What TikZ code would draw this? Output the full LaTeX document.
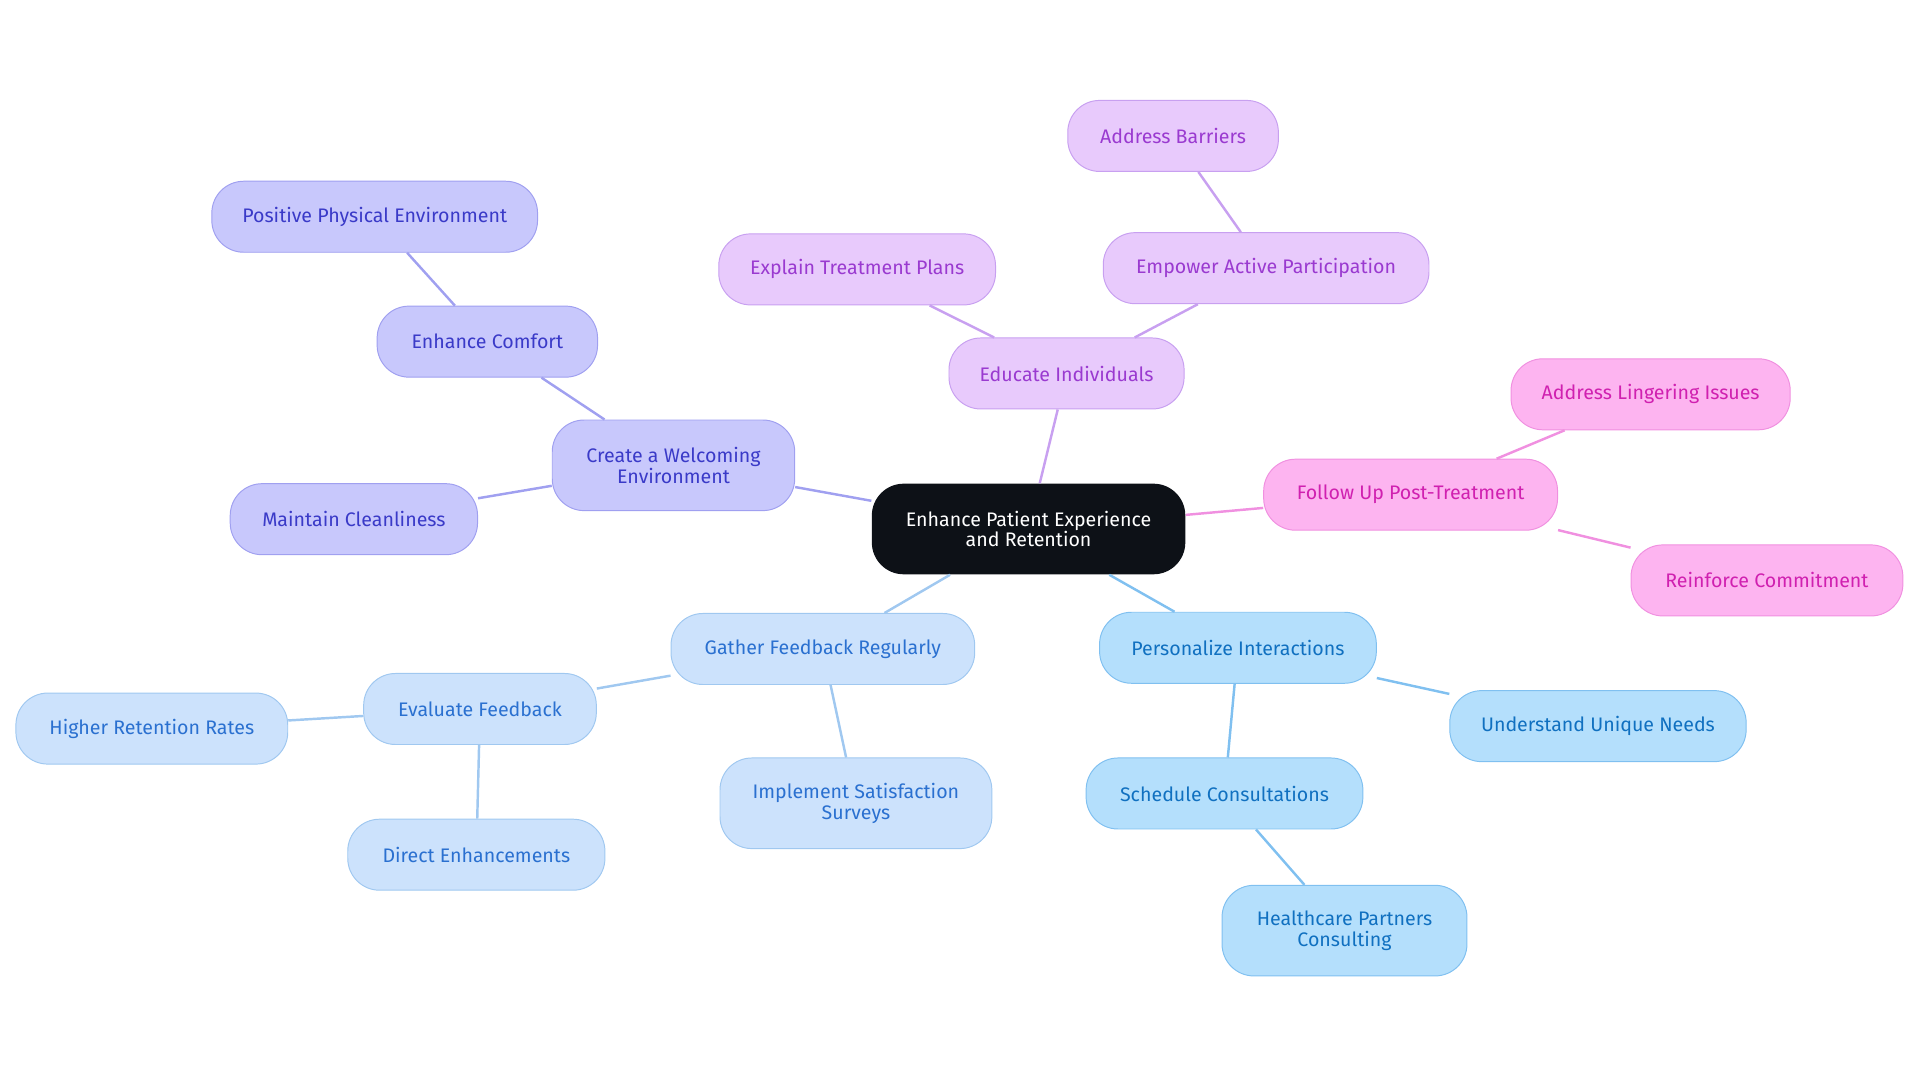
\documentclass[tikz,border=0pt]{standalone}
\usepackage{fontspec}
\setmainfont{Fira Sans}
\usetikzlibrary{positioning}
\definecolor{rootfill}{HTML}{0D1117}
\definecolor{pafill}{HTML}{C8C8FC}\definecolor{padraw}{HTML}{A0A0F0}\definecolor{patext}{HTML}{3A3AC8}
\definecolor{vifill}{HTML}{E8CAFC}\definecolor{vidraw}{HTML}{C8A0F0}\definecolor{vitext}{HTML}{9A3AD0}
\definecolor{pkfill}{HTML}{FDB4F0}\definecolor{pkdraw}{HTML}{F090E0}\definecolor{pktext}{HTML}{D020B0}
\definecolor{lbfill}{HTML}{CCE2FC}\definecolor{lbdraw}{HTML}{A0C8F0}\definecolor{lbtext}{HTML}{2A70D0}
\definecolor{skfill}{HTML}{B4DFFC}\definecolor{skdraw}{HTML}{80C0F0}\definecolor{sktext}{HTML}{1070C0}
\tikzset{
  box/.style={rectangle,rounded corners=26pt,minimum height=58pt,align=center,
    font=\fontsize{16}{17}\selectfont,line width=0.8pt,inner sep=0pt},
  pa/.style={box,fill=pafill,draw=padraw,text=patext},
  vi/.style={box,fill=vifill,draw=vidraw,text=vitext},
  pk/.style={box,fill=pkfill,draw=pkdraw,text=pktext},
  lb/.style={box,fill=lbfill,draw=lbdraw,text=lbtext},
  sk/.style={box,fill=skfill,draw=skdraw,text=sktext},
  tall/.style={minimum height=74pt},
  link/.style={line width=2pt}
}
\begin{document}
\begin{tikzpicture}[x=1pt,y=-1pt]
  \useasboundingbox (0,0) rectangle (1568,884);
  % centre
  \node[box,tall,fill=rootfill,text=white,minimum width=256pt] (root) at (840,432) {Enhance Patient Experience\\and Retention};
  % welcoming branch
  \node[pa,tall,minimum width=198pt] (welcome) at (550,380) {Create a Welcoming\\Environment};
  \node[pa,minimum width=180pt] (comfort) at (398,279) {Enhance Comfort};
  \node[pa,minimum width=266pt] (physical) at (306,177) {Positive Physical Environment};
  \node[pa,minimum width=202pt] (clean) at (289,424) {Maintain Cleanliness};
  % educate branch
  \node[vi,minimum width=192pt] (educate) at (871,305) {Educate Individuals};
  \node[vi,minimum width=226pt] (explain) at (700,220) {Explain Treatment Plans};
  \node[vi,minimum width=266pt] (empower) at (1034,219) {Empower Active Participation};
  \node[vi,minimum width=172pt] (barriers) at (958,111) {Address Barriers};
  % follow up branch
  \node[pk,minimum width=240pt] (follow) at (1152,404) {Follow Up Post-Treatment};
  \node[pk,minimum width=228pt] (lingering) at (1348,322) {Address Lingering Issues};
  \node[pk,minimum width=222pt] (commit) at (1443,474) {Reinforce Commitment};
  % feedback branch
  \node[lb,minimum width=248pt] (gather) at (672,530) {Gather Feedback Regularly};
  \node[lb,minimum width=190pt] (evaluate) at (392,579) {Evaluate Feedback};
  \node[lb,minimum width=222pt] (retention) at (124,595) {Higher Retention Rates};
  \node[lb,minimum width=210pt] (direct) at (389,698) {Direct Enhancements};
  \node[lb,tall,minimum width=222pt] (surveys) at (699,656) {Implement Satisfaction\\Surveys};
  % personalize branch
  \node[sk,minimum width=226pt] (personal) at (1011,529) {Personalize Interactions};
  \node[sk,minimum width=242pt] (needs) at (1305,593) {Understand Unique Needs};
  \node[sk,minimum width=226pt] (schedule) at (1000,648) {Schedule Consultations};
  \node[sk,tall,minimum width=200pt] (partners) at (1098,760) {Healthcare Partners\\Consulting};
  % links
  \begin{scope}[on background layer/.style={}]
  \end{scope}
  \draw[link,padraw] (root) -- (welcome);
  \draw[link,padraw] (welcome) -- (comfort);
  \draw[link,padraw] (comfort) -- (physical);
  \draw[link,padraw] (welcome) -- (clean);
  \draw[link,vidraw] (root) -- (educate);
  \draw[link,vidraw] (educate) -- (explain);
  \draw[link,vidraw] (educate) -- (empower);
  \draw[link,vidraw] (empower) -- (barriers);
  \draw[link,pkdraw] (root) -- (follow);
  \draw[link,pkdraw] (follow) -- (lingering);
  \draw[link,pkdraw] (follow) -- (commit);
  \draw[link,lbdraw] (root) -- (gather);
  \draw[link,lbdraw] (gather) -- (evaluate);
  \draw[link,lbdraw] (evaluate) -- (retention);
  \draw[link,lbdraw] (evaluate) -- (direct);
  \draw[link,lbdraw] (gather) -- (surveys);
  \draw[link,skdraw] (root) -- (personal);
  \draw[link,skdraw] (personal) -- (needs);
  \draw[link,skdraw] (personal) -- (schedule);
  \draw[link,skdraw] (schedule) -- (partners);
\end{tikzpicture}
\end{document}
